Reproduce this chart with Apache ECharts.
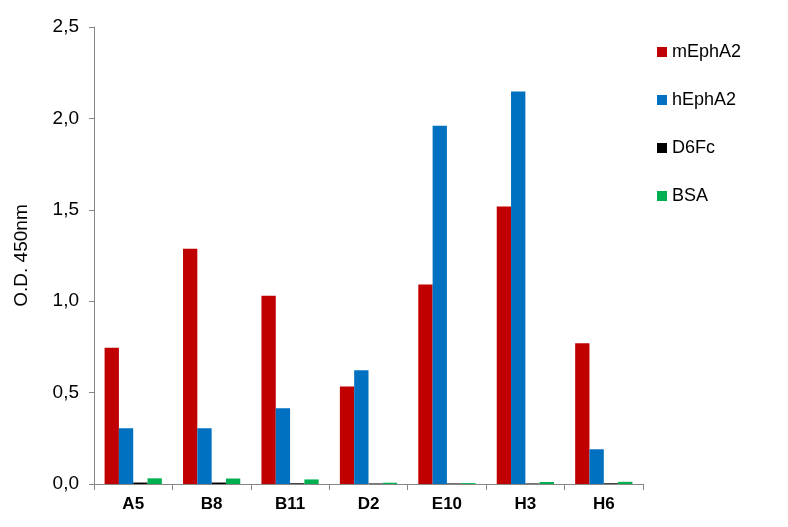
<!DOCTYPE html>
<html>
<head>
<meta charset="utf-8">
<script src="https://cdn.jsdelivr.net/npm/echarts@6/dist/echarts.min.js"></script>
<style>
html,body{margin:0;padding:0;background:#fff;}
#chart{width:788px;height:527px;}
</style>
</head>
<body>
<div id="chart"></div>
<script>
const categories = ['A5', 'B8', 'B11', 'D2', 'E10', 'H3', 'H6'];
const seriesNames = ['mEphA2', 'hEphA2', 'D6Fc', 'BSA'];
const mEphA2 = [0.745, 1.287, 1.03, 0.533, 1.092, 1.518, 0.77];
const hEphA2 = [0.305, 0.305, 0.415, 0.622, 1.96, 2.147, 0.19];
const D6Fc = [0.008, 0.008, 0.004, 0.003, 0.003, 0.003, 0.004];
const BSA = [0.031, 0.030, 0.025, 0.007, 0.005, 0.011, 0.012];
const yTicks = [0, 0.5, 1.0, 1.5, 2.0, 2.5];
const colors = ['#C00000', '#0070C0', '#000000', '#00B050'];

const chart = echarts.init(document.getElementById('chart'));
const font = 'Liberation Sans, Arial, sans-serif';
const values = [mEphA2, hEphA2, D6Fc, BSA];
chart.setOption({
  animation: false,
  backgroundColor: '#fff',
  textStyle: {fontFamily: font},
  grid: {left: 94, right: 145, top: 27, bottom: 43, containLabel: false},
  legend: {
    orient: 'vertical', left: 652, top: 38,
    itemWidth: 10, itemHeight: 10, itemGap: 30,
    icon: 'rect',
    textStyle: {fontSize: 18, color: '#000', fontFamily: font},
    data: seriesNames
  },
  xAxis: {
    type: 'category', data: categories,
    axisLine: {lineStyle: {color: '#868686', width: 1}},
    axisTick: {show: true, length: 6, lineStyle: {color: '#868686'}},
    axisLabel: {fontSize: 17, fontWeight: 'bold', color: '#000', margin: 12, fontFamily: font}
  },
  yAxis: {
    type: 'value', min: yTicks[0], max: yTicks[yTicks.length - 1], interval: 0.5,
    name: 'O.D. 450nm', nameLocation: 'middle', nameGap: 63, nameRotate: 90,
    nameTextStyle: {fontSize: 19, color: '#000', fontFamily: font},
    axisLine: {show: true, lineStyle: {color: '#868686', width: 1}},
    axisTick: {show: true, length: 5, lineStyle: {color: '#868686'}},
    splitLine: {show: false},
    axisLabel: {fontSize: 19, color: '#000', margin: 15, fontFamily: font,
      formatter: v => v.toFixed(1).replace('.', ',')}
  },
  series: seriesNames.map((n, i) => ({
    name: n, type: 'bar', data: values[i],
    itemStyle: {color: colors[i]},
    barGap: '0%', barCategoryGap: '27%'
  }))
});
</script>
</body>
</html>
